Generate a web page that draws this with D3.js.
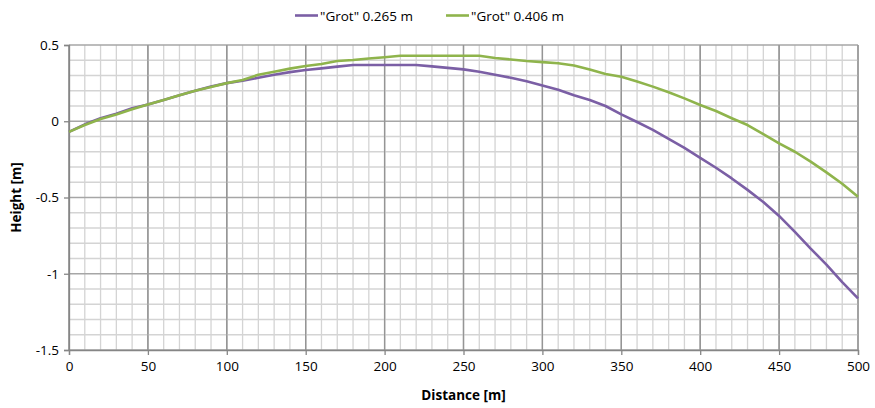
<!DOCTYPE html>
<html><head><meta charset="utf-8">
<script src="https://cdn.jsdelivr.net/npm/d3@7"></script>
<style>body{margin:0;background:#fff}svg{display:block}text{font-family:"Open Sans","Liberation Sans",sans-serif;fill:#000}</style>
</head><body>
<script>
const distances = [0,10,20,30,40,50,60,70,80,90,100,110,120,130,140,150,160,170,180,190,200,210,220,230,240,250,260,270,280,290,300,310,320,330,340,350,360,370,380,390,400,410,420,430,440,450,460,470,480,490,500];
const grot265 = [-0.07,-0.02,0.02,0.05,0.085,0.11,0.14,0.17,0.2,0.228,0.25,0.265,0.285,0.305,0.322,0.336,0.347,0.358,0.369,0.369,0.369,0.369,0.369,0.36,0.35,0.34,0.325,0.305,0.285,0.262,0.235,0.207,0.17,0.139,0.1,0.045,-0.005,-0.057,-0.115,-0.175,-0.24,-0.305,-0.375,-0.45,-0.53,-0.621,-0.725,-0.835,-0.94,-1.055,-1.161];
const grot406 = [-0.07,-0.025,0.015,0.045,0.078,0.11,0.14,0.17,0.2,0.225,0.25,0.27,0.305,0.325,0.345,0.362,0.375,0.395,0.402,0.412,0.42,0.43,0.43,0.43,0.43,0.43,0.43,0.415,0.405,0.395,0.388,0.38,0.365,0.34,0.31,0.292,0.26,0.227,0.19,0.15,0.107,0.067,0.02,-0.025,-0.085,-0.145,-0.2,-0.265,-0.335,-0.41,-0.495];
const seriesNames = ['"Grot" 0.265 m', '"Grot" 0.406 m'];
const seriesColors = ["#7B5FA5", "#8FB44C"];
const xTicks = [0,50,100,150,200,250,300,350,400,450,500];
const yTicks = [0.5,0,-0.5,-1,-1.5];
const xLabel = "Distance [m]";
const yLabel = "Height [m]";

const W = 875, H = 408;
const m = {left:69, right:858, top:45, bottom:350};
const svg = d3.select("body").append("svg").attr("width",W).attr("height",H);
const x = d3.scaleLinear().domain([0,500]).range([m.left,m.right]);
const y = d3.scaleLinear().domain([-1.5,0.5]).range([m.bottom,m.top]);

const g = svg.append("g");
g.selectAll(".vx").data(d3.range(0,501,10)).join("line")
 .attr("x1",d=>x(d)).attr("x2",d=>x(d)).attr("y1",m.top).attr("y2",m.bottom)
 .attr("stroke",d=>d%50===0?"#959595":"#d4d4d4").attr("stroke-width",1.3);
g.selectAll(".hy").data(d3.range(-15,6,1).map(v=>v/10)).join("line")
 .attr("y1",d=>y(d)).attr("y2",d=>y(d)).attr("x1",m.left).attr("x2",m.right)
 .attr("stroke",d=>Math.abs(Math.round(d*10))%5===0?"#a6a6a6":"#d4d4d4").attr("stroke-width",1.3);
g.selectAll(".vx2").data(xTicks).join("line")
 .attr("x1",d=>x(d)).attr("x2",d=>x(d)).attr("y1",m.top).attr("y2",m.bottom)
 .attr("stroke","#959595").attr("stroke-width",1.3);

const xa = svg.append("g").attr("transform",`translate(0,${m.bottom})`)
 .call(d3.axisBottom(x).tickValues(xTicks).tickSize(5).tickPadding(6));
const ya = svg.append("g").attr("transform",`translate(${m.left},0)`)
 .call(d3.axisLeft(y).tickValues(yTicks).tickSize(5).tickPadding(5));
[xa,ya].forEach(a=>{
  a.select(".domain").attr("stroke","#868686").attr("stroke-width",1.3);
  a.selectAll(".tick line").attr("stroke","#868686").attr("stroke-width",1.3);
  a.selectAll("text").attr("font-size",13.5).attr("font-family",'"Open Sans",sans-serif').attr("fill","#000");
});
ya.selectAll("text").text(d=>d===0?"0":String(d));

const line = d3.line().x((d,i)=>x(distances[i])).y(d=>y(d));
[grot265, grot406].forEach((s,i)=>{
  svg.append("path").datum(s).attr("d",line).attr("fill","none")
   .attr("stroke",seriesColors[i]).attr("stroke-width",2.6).attr("stroke-linejoin","round");
});

svg.append("text").attr("x",(m.left+m.right)/2).attr("y",400).attr("text-anchor","middle")
 .attr("font-size",13.5).attr("font-weight","bold").text(xLabel);
svg.append("text").attr("transform",`translate(21,${(m.top+m.bottom)/2}) rotate(-90)`).attr("text-anchor","middle")
 .attr("font-size",13.5).attr("font-weight","bold").text(yLabel);

const leg = [{x:295, tx:320},{x:446, tx:471}];
leg.forEach((l,i)=>{
  svg.append("line").attr("x1",l.x).attr("x2",l.x+23).attr("y1",15.5).attr("y2",15.5)
   .attr("stroke",seriesColors[i]).attr("stroke-width",2.6);
  svg.append("text").attr("x",l.tx).attr("y",20.5).attr("font-size",13.5).text(seriesNames[i]);
});
</script>
</body></html>
